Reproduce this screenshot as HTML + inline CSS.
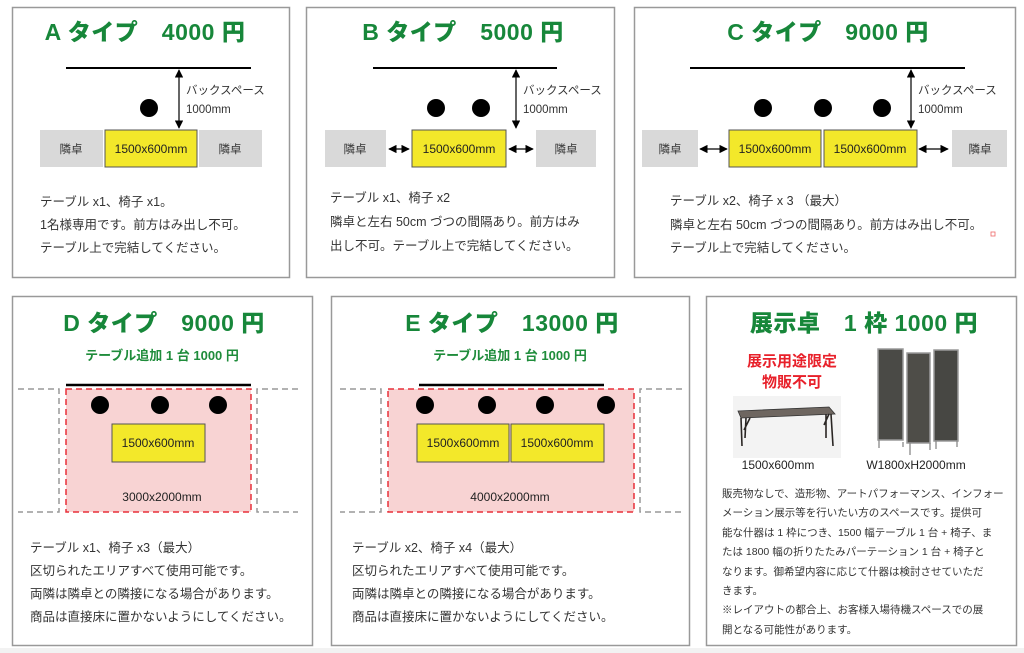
<!DOCTYPE html>
<html><head><meta charset="utf-8"><style>
html,body{margin:0;padding:0;background:#fff;}
svg{display:block;}
text{font-family:"Liberation Sans","Noto Sans CJK JP",sans-serif;}
.t{font-size:23px;font-weight:900;fill:#17873a;text-anchor:middle;letter-spacing:0.5px;}
.s{font-size:13px;font-weight:bold;fill:#1f8c3b;text-anchor:middle;}
.b{font-size:12.5px;fill:#333;}
.sm{font-size:11.5px;fill:#333;}
.m{font-size:12px;fill:#222;text-anchor:middle;}
.box{fill:#fff;stroke:#999;stroke-width:1.5;}
.gy{fill:#d9d9d9;}
.yl{fill:#f3e82a;stroke:#555;stroke-width:1;}
</style></head><body>
<svg width="1024" height="653" viewBox="0 0 1024 653" xmlns="http://www.w3.org/2000/svg">
<defs>
<marker id="ar" viewBox="0 0 10 10" refX="9" refY="5" markerWidth="7" markerHeight="7" orient="auto-start-reverse"><path d="M0,0 L10,5 L0,10 z" fill="#000"/></marker>
</defs>
<rect x="0" y="0" width="1024" height="653" fill="#fff"/>
<rect x="0" y="648" width="1024" height="5" fill="#f2f2f2"/>

<!-- A -->
<rect class="box" x="12.5" y="7.5" width="277" height="270"/>
<text class="t" x="145" y="40">A タイプ　4000 円</text>
<line x1="66" y1="68" x2="251" y2="68" stroke="#000" stroke-width="2"/>
<line x1="179" y1="70" x2="179" y2="128" stroke="#000" stroke-width="1.2" marker-start="url(#ar)" marker-end="url(#ar)"/>
<text class="sm" x="186" y="94">バックスペース</text>
<text class="sm" x="186" y="113">1000mm</text>
<circle cx="149" cy="108" r="9" fill="#000"/>
<rect class="gy" x="40" y="130" width="63" height="37"/>
<rect class="yl" x="105" y="130" width="92" height="37"/>
<rect class="gy" x="199" y="130" width="63" height="37"/>
<text class="sm" x="71" y="153" text-anchor="middle">隣卓</text>
<text class="m" x="151" y="153">1500x600mm</text>
<text class="sm" x="230" y="153" text-anchor="middle">隣卓</text>
<text class="b" x="40" y="206">テーブル x1、椅子 x1。</text>
<text class="b" x="40" y="229">1名様専用です。前方はみ出し不可。</text>
<text class="b" x="40" y="252">テーブル上で完結してください。</text>

<!-- B -->
<rect class="box" x="306.5" y="7.5" width="308" height="270"/>
<text class="t" x="463" y="40">B タイプ　5000 円</text>
<line x1="373" y1="68" x2="557" y2="68" stroke="#000" stroke-width="2"/>
<line x1="516" y1="70" x2="516" y2="128" stroke="#000" stroke-width="1.2" marker-start="url(#ar)" marker-end="url(#ar)"/>
<text class="sm" x="523" y="94">バックスペース</text>
<text class="sm" x="523" y="113">1000mm</text>
<circle cx="436" cy="108" r="9" fill="#000"/>
<circle cx="481" cy="108" r="9" fill="#000"/>
<rect class="gy" x="325" y="130" width="61" height="37"/>
<rect class="yl" x="412" y="130" width="94" height="37"/>
<rect class="gy" x="536" y="130" width="60" height="37"/>
<line x1="389" y1="149" x2="409" y2="149" stroke="#000" stroke-width="1.2" marker-start="url(#ar)" marker-end="url(#ar)"/>
<line x1="509" y1="149" x2="533" y2="149" stroke="#000" stroke-width="1.2" marker-start="url(#ar)" marker-end="url(#ar)"/>
<text class="sm" x="355" y="153" text-anchor="middle">隣卓</text>
<text class="m" x="459" y="153">1500x600mm</text>
<text class="sm" x="566" y="153" text-anchor="middle">隣卓</text>
<text class="b" x="330" y="202">テーブル x1、椅子 x2</text>
<text class="b" x="330" y="226">隣卓と左右 50cm づつの間隔あり。前方はみ</text>
<text class="b" x="330" y="250">出し不可。テーブル上で完結してください。</text>

<!-- C -->
<rect class="box" x="634.5" y="7.5" width="381" height="270"/>
<text class="t" x="828" y="40">C タイプ　9000 円</text>
<line x1="690" y1="68" x2="965" y2="68" stroke="#000" stroke-width="2"/>
<line x1="911" y1="70" x2="911" y2="128" stroke="#000" stroke-width="1.2" marker-start="url(#ar)" marker-end="url(#ar)"/>
<text class="sm" x="918" y="94">バックスペース</text>
<text class="sm" x="918" y="113">1000mm</text>
<circle cx="763" cy="108" r="9" fill="#000"/>
<circle cx="823" cy="108" r="9" fill="#000"/>
<circle cx="882" cy="108" r="9" fill="#000"/>
<rect class="gy" x="642" y="130" width="56" height="37"/>
<rect class="yl" x="729" y="130" width="92" height="37"/>
<rect class="yl" x="824" y="130" width="93" height="37"/>
<rect class="gy" x="952" y="130" width="55" height="37"/>
<line x1="700" y1="149" x2="727" y2="149" stroke="#000" stroke-width="1.2" marker-start="url(#ar)" marker-end="url(#ar)"/>
<line x1="919" y1="149" x2="948" y2="149" stroke="#000" stroke-width="1.2" marker-start="url(#ar)" marker-end="url(#ar)"/>
<text class="sm" x="670" y="153" text-anchor="middle">隣卓</text>
<text class="m" x="775" y="153">1500x600mm</text>
<text class="m" x="870" y="153">1500x600mm</text>
<text class="sm" x="980" y="153" text-anchor="middle">隣卓</text>
<text class="b" x="670" y="205">テーブル x2、椅子 x 3 （最大）</text>
<text class="b" x="670" y="229">隣卓と左右 50cm づつの間隔あり。前方はみ出し不可。</text>
<text class="b" x="670" y="252">テーブル上で完結してください。</text>
<rect x="991" y="232" width="4" height="4" fill="none" stroke="#e66" stroke-width="0.8"/>

<!-- D -->
<rect class="box" x="12.5" y="296.5" width="300" height="349"/>
<text class="t" x="164" y="331">D タイプ　9000 円</text>
<text class="s" x="162" y="360">テーブル追加 1 台 1000 円</text>
<path d="M18,389 H59 V512 H18 M298,389 H257 V512 H298" fill="none" stroke="#999" stroke-width="1.5" stroke-dasharray="6,4"/>
<rect x="66" y="389" width="185" height="123" fill="#f8d3d3" stroke="#e8303a" stroke-width="1.5" stroke-dasharray="6,4"/>
<line x1="66" y1="385" x2="251" y2="385" stroke="#000" stroke-width="2.5"/>
<circle cx="100" cy="405" r="9" fill="#000"/>
<circle cx="160" cy="405" r="9" fill="#000"/>
<circle cx="218" cy="405" r="9" fill="#000"/>
<rect class="yl" x="112" y="424" width="93" height="38"/>
<text class="m" x="158" y="447">1500x600mm</text>
<text class="m" x="162" y="501">3000x2000mm</text>
<text class="b" x="30" y="552">テーブル x1、椅子 x3（最大）</text>
<text class="b" x="30" y="575">区切られたエリアすべて使用可能です。</text>
<text class="b" x="30" y="598">両隣は隣卓との隣接になる場合があります。</text>
<text class="b" x="30" y="621">商品は直接床に置かないようにしてください。</text>

<!-- E -->
<rect class="box" x="331.5" y="296.5" width="358" height="349"/>
<text class="t" x="512" y="331">E タイプ　13000 円</text>
<text class="s" x="510" y="360">テーブル追加 1 台 1000 円</text>
<path d="M340,389 H381 V512 H340 M682,389 H640 V512 H682" fill="none" stroke="#999" stroke-width="1.5" stroke-dasharray="6,4"/>
<rect x="388" y="389" width="246" height="123" fill="#f8d3d3" stroke="#e8303a" stroke-width="1.5" stroke-dasharray="6,4"/>
<line x1="419" y1="385" x2="604" y2="385" stroke="#000" stroke-width="2.5"/>
<circle cx="425" cy="405" r="9" fill="#000"/>
<circle cx="487" cy="405" r="9" fill="#000"/>
<circle cx="545" cy="405" r="9" fill="#000"/>
<circle cx="606" cy="405" r="9" fill="#000"/>
<rect class="yl" x="417" y="424" width="92" height="38"/>
<rect class="yl" x="511" y="424" width="93" height="38"/>
<text class="m" x="463" y="447">1500x600mm</text>
<text class="m" x="557" y="447">1500x600mm</text>
<text class="m" x="510" y="501">4000x2000mm</text>
<text class="b" x="352" y="552">テーブル x2、椅子 x4（最大）</text>
<text class="b" x="352" y="575">区切られたエリアすべて使用可能です。</text>
<text class="b" x="352" y="598">両隣は隣卓との隣接になる場合があります。</text>
<text class="b" x="352" y="621">商品は直接床に置かないようにしてください。</text>

<!-- Exhibit -->
<rect class="box" x="706.5" y="296.5" width="310" height="349"/>
<text class="t" x="864" y="331">展示卓　1 枠 1000 円</text>
<text x="792" y="366" font-size="15" font-weight="bold" fill="#e8202a" text-anchor="middle">展示用途限定</text>
<text x="792" y="387" font-size="15" font-weight="bold" fill="#e8202a" text-anchor="middle">物販不可</text>
<rect x="733" y="396" width="108" height="62" fill="#f3f3f3"/>
<polygon points="738,411 829,407 835,414 741,418" fill="#6e6660" stroke="#333" stroke-width="0.8"/>
<path d="M741,418 L742,446 M746,418 L745,438 M750,418 L744,430 M831,414 L833,446 M826,414 L826,438 M829,414 L824,425" stroke="#2a2624" stroke-width="1.6" fill="none"/>
<g stroke="#9a9a9a" stroke-width="1.5">
<rect x="878" y="349" width="25" height="91" fill="#4a4a46"/>
<rect x="907" y="353" width="23" height="90" fill="#4e4d48"/>
<rect x="934" y="350" width="24" height="91" fill="#474743"/>
</g>
<path d="M879,440 V448 M903,442 V447 M910,443 V455 M930,443 V450 M936,441 V449 M957,441 V447" stroke="#888" stroke-width="1.3"/>
<text class="m" x="778" y="469">1500x600mm</text>
<text class="m" x="916" y="469">W1800xH2000mm</text>
<g font-size="10.5" fill="#333">
<text x="722" y="497">販売物なしで、造形物、アートパフォーマンス、インフォー</text>
<text x="722" y="516">メーション展示等を行いたい方のスペースです。提供可</text>
<text x="722" y="536">能な什器は 1 枠につき、1500 幅テーブル 1 台 + 椅子、ま</text>
<text x="722" y="555">たは 1800 幅の折りたたみパーテーション 1 台 + 椅子と</text>
<text x="722" y="575">なります。御希望内容に応じて什器は検討させていただ</text>
<text x="722" y="594">きます。</text>
<text x="722" y="613">※レイアウトの都合上、お客様入場待機スペースでの展</text>
<text x="722" y="633">開となる可能性があります。</text>
</g>
</svg>
</body></html>
